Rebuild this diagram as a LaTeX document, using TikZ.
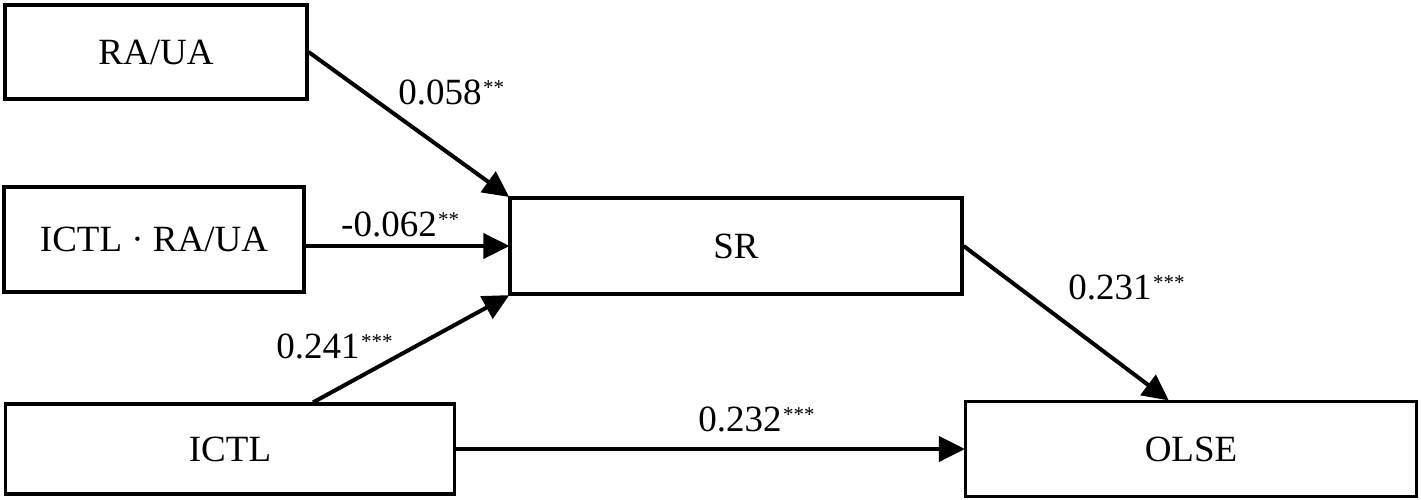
\documentclass[tikz,border=0pt]{standalone}
\usepackage{fontspec}
\setmainfont{Liberation Serif}
\usetikzlibrary{arrows.meta,calc}
\begin{document}
\begin{tikzpicture}[x=1pt,y=-1pt,
  box/.style={draw=black,line width=3.2pt,inner sep=0pt,font=\fontsize{37}{40}\selectfont},
  conn/.style={line width=4pt,-{Triangle[length=26pt,width=25pt]},shorten >=-1pt},
  lab/.style={inner sep=0pt,anchor=base,font=\fontsize{37}{40}\selectfont},
  star/.style={inner sep=0pt,anchor=base west,yshift=10pt,xshift=1pt,font=\fontsize{21}{21}\selectfont}]
\useasboundingbox (0,0) rectangle (1421,500);
\fill[white] (0,0) rectangle (1421,500);
\node[box,minimum width=302pt,minimum height=94pt] (rau) at (156,52) {RA/UA};
\node[box,minimum width=300pt,minimum height=105pt] (irau) at (154,239.5) {ICTL · RA/UA};
\node[box,minimum width=452pt,minimum height=96pt] (sr) at (736,246) {SR};
\node[box,minimum width=449pt,minimum height=90pt] (ictl) at (230,449) {ICTL};
\node[box,minimum width=451pt,minimum height=95pt] (olse) at (1191,449) {OLSE};
\draw[conn] (rau.east) -- (sr.north west);
\draw[conn] (irau.east |- sr.west) -- (sr.west);
\draw[conn] ($(ictl.north)+(83,0)$) -- (sr.south west);
\draw[conn] (ictl.east) -- (olse.west);
\draw[conn] (sr.east) -- ($(olse.north)+(-23,0)$);
\node[lab] (l1) at (440,105) {0.058};
\node[star] (s1) at (l1.base east) {**};
\node[lab] (l2) at (389,236) {-0.062};
\node[star] (s2) at (l2.base east) {**};
\node[lab] (l3) at (318,358) {0.241};
\node[star] (s3) at (l3.base east) {***};
\node[lab] (l4) at (1110,299) {0.231};
\node[star] (s4) at (l4.base east) {***};
\node[lab] (l5) at (740,431) {0.232};
\node[star] (s5) at (l5.base east) {***};
\end{tikzpicture}
\end{document}
